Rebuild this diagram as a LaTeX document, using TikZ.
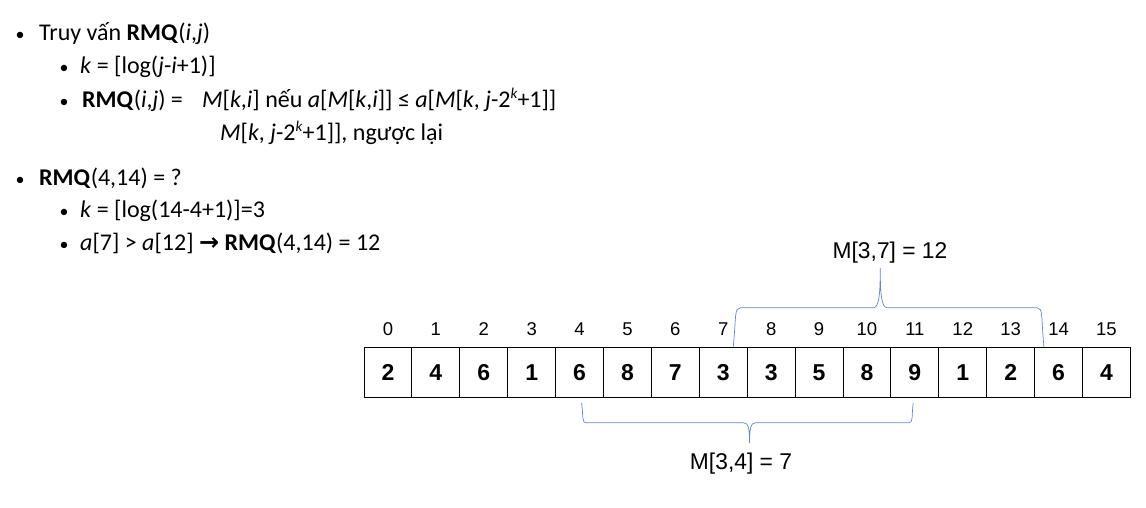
\documentclass[tikz,border=0pt]{standalone}
\usepackage{fontspec}
\setmainfont{Carlito}
\newfontfamily\arialfont{Liberation Sans}
\newfontfamily\arrowfont{DejaVu Sans}
\usetikzlibrary{calc}
\definecolor{bracecol}{RGB}{96,134,206}
\newcommand{\supk}{\raisebox{0.36em}{\fontsize{15}{15}\selectfont\textit{k}}}

\begin{document}
\begin{tikzpicture}[x=1pt,y=-1pt,
    txt/.style={anchor=base west,inner sep=0pt,font=\fontsize{24}{28}\selectfont},
    dot/.style={anchor=base,inner sep=0pt,font=\fontsize{18}{22}\selectfont},
    cell/.style={draw,line width=1pt,minimum width=47.9pt,minimum height=50pt,inner sep=0pt,
        font=\arialfont\bfseries\fontsize{23}{27}\selectfont},
    idx/.style={anchor=base,inner sep=0pt,font=\arialfont\fontsize{18.5}{22}\selectfont},
    lbl/.style={anchor=base,inner sep=0pt,font=\arialfont\fontsize{22.8}{26}\selectfont},
    brc/.style={draw=bracecol,line width=0.7pt}]
        \useasboundingbox (0,0) rectangle (1146,507);
        %bullets
        \node[dot] (b1) at (20,40.7) {•};
        \node[dot] (b2) at (64,73.5) {•};
        \node[dot] (b3) at (64,107) {•};
        \node[dot] (b5) at (20,185.5) {•};
        \node[dot] (b6) at (64,217) {•};
        \node[dot] (b7) at (64,250) {•};
        %text lines
        \node[txt] (l1) at (39,40.7) {Truy vấn \textbf{RMQ}(\textit{i},\textit{j})};
        \node[txt] (l2) at (80,73.5) {\textit{k} = [log(\textit{j}-\textit{i}+1)]};
        \node[txt] (l3) at (82,107) {\textbf{RMQ}(\textit{i},\textit{j}) =};
        \node[txt] (l3b) at (202,107) {\textit{M}[\textit{k},\textit{i}] nếu \textit{a}[\textit{M}[\textit{k},\textit{i}]] ≤ \textit{a}[\textit{M}[\textit{k}, \textit{j}-2\supk+1]]};
        \node[txt] (l4) at (220,140) {\textit{M}[\textit{k}, \textit{j}-2\supk+1]], ngược lại};
        \node[txt] (l5) at (39,185.5) {\textbf{RMQ}(4,14) = ?};
        \node[txt] (l6) at (80,217) {\textit{k} = [log(14-4+1)]=3};
        \node[txt] (l7) at (80,250) {\textit{a}[7] > \textit{a}[12] {\arrowfont\bfseries →} \textbf{RMQ}(4,14) = 12};
        %array
        \foreach \v [count=\i from 0] in {2,4,6,1,6,8,7,3,3,5,8,9,1,2,6,4} {
            \pgfmathsetmacro\cx{364+(\i+0.5)*47.9}
            \node[cell] (c\i) at (\cx,372.3) {\v};
            \node[idx] (n\i) at (\cx,335.7) {\i};}
        %braces
        \coordinate (tl) at ($(c7.north)+(10,0)$);
        \coordinate (tr) at ($(c14.north)+(-14.6,0)$);
        \coordinate (bl) at ($(c4.south)+(2,5)$);
        \coordinate (br) at ($(c11.south)+(-1.6,5)$);
        \draw[brc] (tl) .. controls +(3,-30) and +(-6,0) .. ++(7,-39) -- ++(133,0)
            .. controls +(6,0) and +(0,25) .. ++(7,-40) .. controls +(0,25) and +(-6,0) .. ++(7,40)
            -- ++(150,0) .. controls +(6,0) and +(-3,-30) .. (tr);
        \draw[brc] (bl) .. controls +(2,15) and +(-5,0) .. ++(5,20) -- ++(157,0)
            .. controls +(5,0) and +(0,-14) .. ++(6,20) .. controls +(0,-14) and +(-5,0) .. ++(6,-20)
            -- ++(153,0) .. controls +(5,0) and +(-2,15) .. (br);
        \node[lbl] (m37) at (890,258) {M[3,7] = 12};
        \node[lbl] (m34) at (741,469) {M[3,4] = 7};
    \end{tikzpicture}
\end{document}
